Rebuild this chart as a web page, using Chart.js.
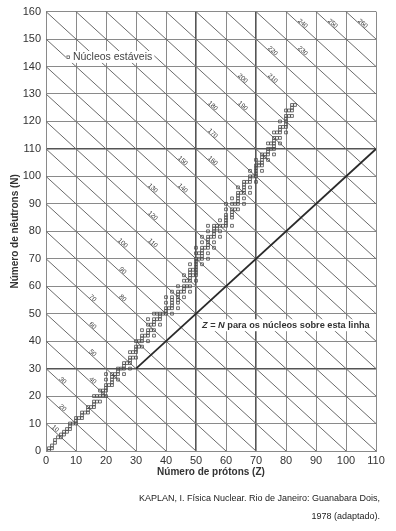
<!DOCTYPE html>
<html>
<head>
<meta charset="utf-8">
<script src="https://cdn.jsdelivr.net/npm/chart.js@4/dist/chart.umd.min.js"></script>
<style>
  html, body { margin: 0; padding: 0; background: #fff; }
  canvas { display: block; }
</style>
</head>
<body>
<canvas id="nuclides" width="396" height="531"></canvas>
<script>
'use strict'

// neutron numbers N of the stable nuclei, one row per proton number Z = 1..83
const stableNeutrons = [
  [0, 1], [1, 2], [3, 4], [5], [5, 6], [6, 7], [7, 8], [8, 9, 10], [10], [10, 11, 12],
  [12], [12, 13, 14], [14], [14, 15, 16], [16], [16, 17, 18, 20], [18, 20], [18, 20, 22], [20, 21, 22], [20, 22, 23, 24, 26, 28],
  [24], [24, 25, 26, 27, 28], [27, 28], [26, 28, 29, 30], [30], [28, 30, 31, 32], [32], [30, 32, 33, 34, 36], [34, 36], [34, 36, 37, 38, 40],
  [38, 40], [38, 40, 41, 42, 44], [42], [40, 42, 43, 44, 46, 48], [44, 46], [42, 44, 46, 47, 48, 50], [48, 50], [46, 48, 49, 50], [50], [50, 51, 52, 54, 56],
  [52], [50, 52, 53, 54, 55, 56, 58], [], [52, 54, 55, 56, 57, 58, 60], [58], [56, 58, 59, 60, 62, 64], [60, 62], [58, 60, 62, 63, 64, 65, 66, 68], [64, 66], [62, 64, 65, 66, 67, 68, 69, 70, 72, 74],
  [70, 72], [68, 70, 71, 72, 73, 74, 76, 78], [74], [70, 72, 74, 75, 76, 77, 78, 80, 82], [78], [74, 76, 78, 79, 80, 81, 82], [81, 82], [78, 80, 82, 84], [82], [82, 83, 84, 85, 86, 88, 90],
  [], [82, 85, 86, 87, 88, 90, 92], [88, 90], [88, 90, 91, 92, 93, 94, 96], [94], [90, 92, 94, 95, 96, 97, 98], [98], [94, 96, 98, 99, 100, 102], [100], [98, 100, 101, 102, 103, 104, 106],
  [104, 105], [102, 104, 105, 106, 107, 108], [107, 108], [106, 108, 109, 110, 112], [110, 112], [108, 110, 111, 112, 113, 114, 116], [114, 116], [112, 114, 116, 117, 118, 120], [118], [116, 118, 119, 120, 121, 122, 124],
  [122, 124], [122, 124, 125, 126], [126]
]

// lines of constant mass number A = Z + N
const isobarMass = [10, 20, 30, 40, 50, 60, 70, 80, 90, 100, 110, 120, 130, 140, 150, 160, 170, 180, 190, 200, 210, 220, 230, 240, 250, 260, 270]
const isobarLabelMass = [10, 20, 30, 40, 50, 60, 70, 80, 90, 100, 110, 120, 130, 140, 150, 160, 170, 180, 190, 200, 210, 220, 230, 240, 250, 260]
const isobarLabelZ = [2.5, 5, 5, 15, 15, 15, 15, 25, 25, 25, 35, 35, 35, 45, 45, 55, 55, 55, 65, 65, 75, 75, 85, 85, 95, 105]

const heavyZ = [50, 70]
const heavyN = [30, 110]
const equalLineEnds = [30, 110]

const FONT = "'Liberation Sans', Arial, sans-serif"

var points = []
stableNeutrons.forEach(function(row, i) {
  row.forEach(function(n) { points.push({ x: i + 1, y: n }) })
})

var datasets = [{
  type: 'scatter',
  data: points,
  pointStyle: 'rect',
  pointRadius: 2,
  borderWidth: 0.8,
  borderColor: '#4a4a4a',
  backgroundColor: 'rgba(255,255,255,0)'
}, {
  type: 'line',
  data: [{ x: equalLineEnds[0], y: equalLineEnds[0] }, { x: equalLineEnds[1], y: equalLineEnds[1] }],
  borderColor: '#2a2a2a',
  borderWidth: 1.8,
  pointRadius: 0
}]

isobarMass.forEach(function(a) {
  datasets.push({
    type: 'line',
    data: [{ x: 0, y: a }, { x: a, y: 0 }],
    borderColor: '#6a6a6a',
    borderWidth: 1,
    pointRadius: 0
  })
})

var textPlugin = {
  id: 'nuclideTexts',
  afterDraw: function(chart) {
    var ctx = chart.ctx
    var xs = chart.scales.x
    var ys = chart.scales.y
    var area = chart.chartArea
    var angle = Math.atan2(ys.getPixelForValue(0) - ys.getPixelForValue(1), xs.getPixelForValue(1) - xs.getPixelForValue(0))

    ctx.save()
    // mass number labels along the isobar lines
    ctx.fillStyle = '#3a3a3a'
    ctx.font = '6.5px ' + FONT
    ctx.textAlign = 'center'
    ctx.textBaseline = 'middle'
    isobarLabelMass.forEach(function(a, i) {
      var z = isobarLabelZ[i]
      ctx.save()
      ctx.translate(xs.getPixelForValue(z), ys.getPixelForValue(a - z))
      ctx.rotate(angle)
      ctx.fillText(String(a), 0, -2.5)
      ctx.restore()
    })

    // legend
    var lx = xs.getPixelForValue(7.3)
    var ly = ys.getPixelForValue(143.5)
    ctx.font = '10.5px ' + FONT
    ctx.textAlign = 'left'
    var legendText = 'Núcleos estáveis'
    var w = ctx.measureText(legendText).width
    ctx.fillStyle = '#fff'
    ctx.fillRect(lx - 2, ly - 6, w + 9, 12)
    ctx.strokeStyle = '#555'
    ctx.lineWidth = 0.8
    ctx.strokeRect(lx - 1, ly - 1, 2.5, 2.5)
    ctx.fillStyle = '#444'
    ctx.fillText(legendText, lx + 5, ly)

    // Z = N note
    var nx = xs.getPixelForValue(52)
    var ny = ys.getPixelForValue(45.8)
    var parts = [['Z', 'italic bold'], [' = ', 'bold'], ['N', 'italic bold'], [' para os núcleos sobre esta linha', 'bold']]
    var total = 0
    parts.forEach(function(p) { ctx.font = p[1] + ' 9.2px ' + FONT; total += ctx.measureText(p[0]).width })
    ctx.fillStyle = '#fff'
    ctx.fillRect(nx - 1, ny - 6, total + 2, 12)
    ctx.fillStyle = '#333'
    var cx = nx
    parts.forEach(function(p) {
      ctx.font = p[1] + ' 9.2px ' + FONT
      ctx.fillText(p[0], cx, ny)
      cx += ctx.measureText(p[0]).width
    })

    // axis titles
    ctx.fillStyle = '#333'
    ctx.textAlign = 'center'
    ctx.font = 'bold 10px ' + FONT
    ctx.fillText('Número de prótons (Z)', (area.left + area.right) / 2, 472)
    ctx.save()
    ctx.translate(15, (area.top + area.bottom) / 2)
    ctx.rotate(-Math.PI / 2)
    ctx.fillText('Número de nêutrons (N)', 0, 0)
    ctx.restore()

    // source
    ctx.font = '9px ' + FONT
    ctx.textAlign = 'right'
    ctx.fillStyle = '#222'
    ctx.fillText('KAPLAN, I. Física Nuclear. Rio de Janeiro: Guanabara Dois,', 380, 499)
    ctx.fillText('1978 (adaptado).', 380, 517)
    ctx.restore()
  }
}

function gridWidth(list) {
  return function(c) { return c.tick && list.indexOf(c.tick.value) >= 0 ? 1.6 : 1 }
}
function gridColor(list) {
  return function(c) { return c.tick && list.indexOf(c.tick.value) >= 0 ? '#555' : '#8a8a8a' }
}

var chart = new Chart(document.getElementById('nuclides').getContext('2d'), {
  type: 'scatter',
  data: { datasets: datasets },
  options: {
    responsive: false,
    animation: false,
    layout: { padding: { top: 10, right: 20, left: 0, bottom: 0 } },
    plugins: { legend: { display: false }, tooltip: { enabled: false } },
    scales: {
      x: {
        type: 'linear',
        min: 0,
        max: 110,
        afterFit: function(scale) { scale.height = 80 },
        ticks: { stepSize: 10, padding: 3, color: '#333', font: { family: FONT, size: 11 } },
        grid: { drawTicks: false, lineWidth: gridWidth(heavyZ), color: gridColor(heavyZ) },
        border: { color: '#8a8a8a' }
      },
      y: {
        type: 'linear',
        min: 0,
        max: 160,
        afterFit: function(scale) { scale.width = 46 },
        ticks: { stepSize: 10, padding: 5, color: '#333', font: { family: FONT, size: 11 } },
        grid: { drawTicks: false, lineWidth: gridWidth(heavyN), color: gridColor(heavyN) },
        border: { color: '#8a8a8a' }
      }
    }
  },
  plugins: [textPlugin]
})
</script>
</body>
</html>
